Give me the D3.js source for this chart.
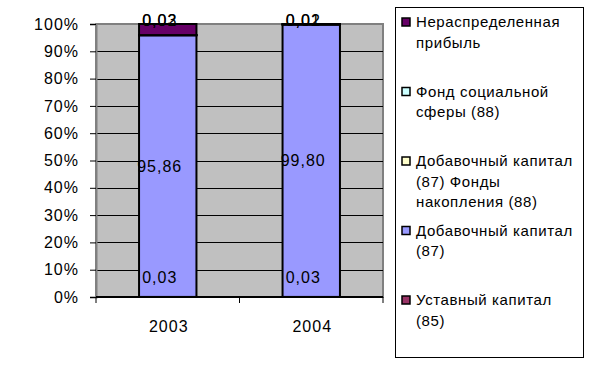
<!DOCTYPE html>
<html>
<head>
<meta charset="utf-8">
<script src="https://cdn.jsdelivr.net/npm/d3@7"></script>
<style>
  body { margin: 0; background: #fff; }
  text { font-family: "Liberation Sans", Arial, sans-serif; }
</style>
</head>
<body>
<div id="chart"></div>
<script>
// 100% stacked columns, capital structure 2003 / 2004
var years = ["2003", "2004"];
var seriesNames = ["Уставный капитал (85)", "Добавочный капитал (87)",
                   "Добавочный капитал (87) Фонды накопления (88)",
                   "Фонд социальной сферы (88)", "Нераспределенная прибыль"];
var ustav     = [0.03, 0.03];
var dobav     = [95.86, 99.80];
var fondNakop = [0.02, 0.01];
var fondSoc   = [0.03, 0.02];
var neraspr   = [4.06, 0.14];
var colours = ["#993366", "#9999ff", "#ffffcc", "#ccffff", "#660066"];
var yTicks = [0, 10, 20, 30, 40, 50, 60, 70, 80, 90, 100];

// legend lines (top entry first, like the picture)
var legendLines = [
  ["Нераспределенная", "прибыль"],
  ["Фонд социальной", "сферы (88)"],
  ["Добавочный капитал", "(87) Фонды", "накопления (88)"],
  ["Добавочный капитал", "(87)"],
  ["Уставный капитал", "(85)"]
];

var width = 597, height = 386;
var plot = {left: 96, right: 383, top: 24, bottom: 297};

var svg = d3.select("#chart").append("svg")
    .attr("width", width)
    .attr("height", height);

var table = years.map(function(y, i) {
  return {year: y, s0: ustav[i], s1: dobav[i], s2: fondNakop[i], s3: fondSoc[i], s4: neraspr[i]};
});
var keys = ["s0", "s1", "s2", "s3", "s4"];
var stacked = d3.stack().keys(keys).offset(d3.stackOffsetExpand)(table);

var x = d3.scaleBand()
    .domain(years)
    .range([plot.left, plot.right])
    .paddingInner(0.6)
    .paddingOuter(0.3);

var y = d3.scaleLinear()
    .domain([0, 100])
    .range([plot.bottom, plot.top]);

// plot background
svg.append("rect")
    .attr("x", plot.left).attr("y", plot.top)
    .attr("width", plot.right - plot.left)
    .attr("height", plot.bottom - plot.top)
    .attr("fill", "#c0c0c0")
    .attr("stroke", "#808080")
    .attr("stroke-width", 2);

// gridlines
svg.selectAll(".grid")
    .data(yTicks.filter(function(t) { return t > 0 && t < 100; }))
    .enter().append("line")
    .attr("x1", plot.left).attr("x2", plot.right)
    .attr("y1", function(d) { return Math.round(y(d)) + 0.5; })
    .attr("y2", function(d) { return Math.round(y(d)) + 0.5; })
    .attr("stroke", "#000")
    .attr("stroke-width", 1);

// y axis
var yAxis = svg.append("g")
    .attr("transform", "translate(" + plot.left + ",0)")
    .call(d3.axisLeft(y).tickValues(yTicks).tickSize(6).tickPadding(11)
      .tickFormat(function(d) { return d + "%"; }));
yAxis.select(".domain").attr("stroke", "#808080").attr("stroke-width", 2);
yAxis.selectAll(".tick line").attr("stroke", "#000");
yAxis.selectAll("text").attr("font-size", 16).attr("fill", "#000")
    .attr("letter-spacing", 1)
    .attr("font-family", "Liberation Sans, Arial, sans-serif");

// bars
svg.selectAll(".layer")
    .data(stacked)
    .enter().append("g")
    .attr("fill", function(d, i) { return colours[i]; })
    .selectAll("rect")
    .data(function(d) { return d; })
    .enter().append("rect")
    .attr("x", function(d) { return x(d.data.year); })
    .attr("width", x.bandwidth())
    .attr("y", function(d) { return y(d[1] * 100); })
    .attr("height", function(d) { return y(d[0] * 100) - y(d[1] * 100); })
    .attr("stroke", "#000")
    .attr("stroke-width", 2);

// x axis
svg.append("line")
    .attr("x1", plot.left).attr("x2", plot.right)
    .attr("y1", plot.bottom).attr("y2", plot.bottom)
    .attr("stroke", "#000").attr("stroke-width", 2);
svg.selectAll(".xtick")
    .data([plot.left, (plot.left + plot.right) / 2, plot.right])
    .enter().append("line")
    .attr("x1", function(d) { return d; }).attr("x2", function(d) { return d; })
    .attr("y1", plot.bottom).attr("y2", plot.bottom + 6)
    .attr("stroke", "#000");
svg.selectAll(".xlab")
    .data(years)
    .enter().append("text")
    .attr("x", function(d) { return x(d) + x.bandwidth() / 2 + 1; })
    .attr("y", plot.bottom + 35)
    .attr("text-anchor", "middle")
    .attr("font-size", 16)
    .attr("letter-spacing", 1)
    .text(function(d) { return d; });

// data labels (the unallocated profit carries none in the picture)
var fmt = function(v) { return v.toFixed(2).replace(".", ","); };
var raw = [ustav, dobav, fondNakop, fondSoc];
stacked.slice(0, 4).forEach(function(layer, si) {
  layer.forEach(function(d, ci) {
    var v = raw[si][ci];
    var cy;
    if (si === 0) cy = y(0) - 20;
    else if (v < 5) cy = y(100) - 4;
    else cy = (y(d[0] * 100) + y(d[1] * 100)) / 2;
    svg.append("text")
      .attr("x", x(d.data.year) + x.bandwidth() / 2 - 8)
      .attr("y", cy)
      .attr("dy", "0.35em")
      .attr("text-anchor", "middle")
      .attr("font-size", 16)
      .attr("letter-spacing", 1)
      .text(fmt(v));
  });
});

// legend
var lg = svg.append("g");
lg.append("rect")
    .attr("x", 395.5).attr("y", 7.5)
    .attr("width", 188).attr("height", 350)
    .attr("fill", "#fff").attr("stroke", "#000");

legendLines.forEach(function(lines, i) {
  var colour = colours[colours.length - 1 - i];
  var top = 22 + i * 69.5;
  lg.append("rect")
    .attr("x", 402).attr("y", top - 4)
    .attr("width", 8).attr("height", 8)
    .attr("fill", colour).attr("stroke", "#000").attr("stroke-width", 1.5);
  lines.forEach(function(t, j) {
    lg.append("text")
      .attr("x", 416)
      .attr("y", top + 5 + j * 20.5)
      .attr("font-size", 15)
      .attr("letter-spacing", 0.6)
      .text(t);
  });
});
</script>
</body>
</html>
